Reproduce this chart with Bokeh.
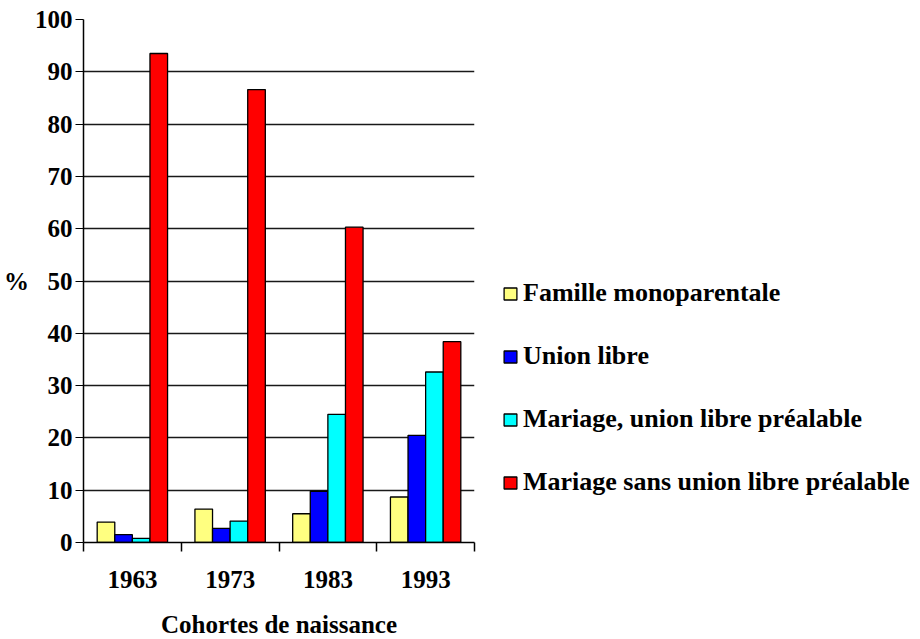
from bokeh.plotting import figure
from bokeh.models import Legend, LegendItem, FixedTicker, Range1d
from bokeh.embed import file_html
from bokeh.resources import INLINE

cohorts = ["1963", "1973", "1983", "1993"]
series_names = ["Famille monoparentale", "Union libre",
                "Mariage, union libre préalable",
                "Mariage sans union libre préalable"]
famille_mono = [3.9, 6.4, 5.5, 8.7]
union_libre = [1.5, 2.7, 9.8, 20.5]
mariage_ul = [0.8, 4.1, 24.5, 32.6]
mariage_sans = [93.5, 86.6, 60.3, 38.4]
colors = ["#FFFF80", "#0000FF", "#00FFFF", "#FF0000"]
y_ticks = [0, 10, 20, 30, 40, 50, 60, 70, 80, 90, 100]

FONT = "Liberation Serif"
FS = "25px"

p = figure(frame_width=391, frame_height=523, output_backend="svg", toolbar_location=None,
           x_range=Range1d(0, 4), y_range=Range1d(0, 100),
           min_border_left=80, min_border_top=19, min_border_bottom=4,
           min_border_right=0)
p.outline_line_color = None

bw = 0.18
offsets = [-1.5 * bw, -0.5 * bw, 0.5 * bw, 1.5 * bw]
all_series = [famille_mono, union_libre, mariage_ul, mariage_sans]
renderers = []
for vals, off, col in zip(all_series, offsets, colors):
    xs = [i + 0.5 + off for i in range(len(cohorts))]
    r = p.vbar(x=xs, top=vals, width=bw, bottom=0, fill_color=col,
               line_color="black", line_width=1.3)
    renderers.append(r)

# y axis
p.yaxis.ticker = FixedTicker(ticks=y_ticks)
p.yaxis.major_tick_in = 0
p.yaxis.major_tick_out = 8
p.yaxis.minor_tick_line_color = None
p.yaxis.axis_line_color = "black"
p.yaxis.axis_line_width = 1.5
p.yaxis.major_label_text_font = FONT
p.yaxis.major_label_text_font_style = "bold"
p.yaxis.major_label_text_font_size = FS
p.yaxis.major_label_text_color = "black"
p.yaxis.major_label_standoff = 3
p.yaxis.axis_label = "%"
p.yaxis.axis_label_orientation = "horizontal"
p.yaxis.axis_label_text_font = FONT
p.yaxis.axis_label_text_font_style = "bold"
p.yaxis.axis_label_text_font_size = FS
p.yaxis.axis_label_text_color = "black"
p.yaxis.axis_label_standoff = 3

# x axis
p.xaxis.ticker = FixedTicker(ticks=[0.5, 1.5, 2.5, 3.5], minor_ticks=[0, 1, 2, 3, 4])
p.xaxis.major_label_overrides = {0.5: cohorts[0], 1.5: cohorts[1], 2.5: cohorts[2], 3.5: cohorts[3]}
p.xaxis.major_tick_line_color = None
p.xaxis.minor_tick_in = 0
p.xaxis.minor_tick_out = 9
p.xaxis.minor_tick_line_color = "black"
p.xaxis.minor_tick_line_width = 1.5
p.xaxis.axis_line_color = "black"
p.xaxis.axis_line_width = 1.5
p.xaxis.major_label_text_font = FONT
p.xaxis.major_label_text_font_style = "bold"
p.xaxis.major_label_text_font_size = FS
p.xaxis.major_label_text_color = "black"
p.xaxis.major_label_standoff = 19
p.xaxis.axis_label = "Cohortes de naissance"
p.xaxis.axis_label_text_font = FONT
p.xaxis.axis_label_text_font_style = "bold"
p.xaxis.axis_label_text_font_size = FS
p.xaxis.axis_label_text_color = "black"
p.xaxis.axis_label_standoff = 20

p.xgrid.grid_line_color = None
p.ygrid.grid_line_color = "black"
p.ygrid.grid_line_width = 1.3
p.ygrid.grid_line_alpha = 0.9

items = [LegendItem(label=n, renderers=[r]) for n, r in zip(series_names, renderers)]
legend = Legend(items=items, location=(28, 45), orientation="vertical",
                label_text_font=FONT, label_text_font_style="bold",
                label_text_font_size="26px", label_text_color="black",
                glyph_width=16, glyph_height=15, label_height=25,
                spacing=33, padding=0, margin=0, label_standoff=5,
                border_line_color=None, background_fill_alpha=0)
p.add_layout(legend, "right")

open("out.html", "w").write(file_html(p, INLINE))
